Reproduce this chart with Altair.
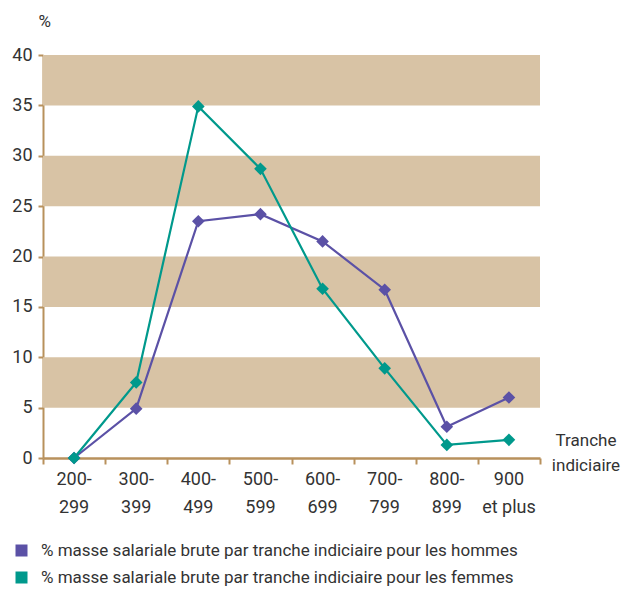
import altair as alt
import pandas as pd

categories = ["200-299", "300-399", "400-499", "500-599", "600-699", "700-799", "800-899", "900 et plus"]
cat_labels = ["200-\n299", "300-\n399", "400-\n499", "500-\n599", "600-\n699", "700-\n799", "800-\n899", "900\net plus"]
hommes = [0.0, 4.9, 23.5, 24.2, 21.5, 16.7, 3.1, 6.0]
femmes = [0.0, 7.5, 34.9, 28.7, 16.8, 8.9, 1.3, 1.8]
series_names = [
    "% masse salariale brute par tranche indiciaire pour les hommes",
    "% masse salariale brute par tranche indiciaire pour les femmes",
]
colors = ["#5b51a6", "#00998c"]
band_lo = [5, 15, 25, 35]
band_hi = [10, 20, 30, 40]
x_title = ["Tranche\nindiciaire"]

FONT = "Roboto"
TAN = "#b8915c"
TXT = "#333333"

rows = []
for name, vals in zip(series_names, [hommes, femmes]):
    for c, v in zip(categories, vals):
        rows.append({"cat": c, "val": v, "serie": name})
df = pd.DataFrame(rows)
bands = pd.DataFrame({"lo": band_lo, "hi": band_hi})
labels_df = pd.DataFrame({"cat": categories, "lab": cat_labels})

yscale = alt.Scale(domain=[0, 40], nice=False)
xscale = alt.Scale(type="band", domain=categories, paddingInner=0, paddingOuter=0)
cscale = alt.Scale(domain=series_names, range=colors)

band_layer = alt.Chart(bands).mark_rect(color="#d8c3a5").encode(
    x=alt.value(0),
    x2=alt.value(497),
    y=alt.Y("lo:Q", scale=yscale,
            axis=alt.Axis(values=[0, 5, 10, 15, 20, 25, 30, 35, 40], grid=False,
                          domainColor=TAN, domainWidth=2, tickColor=TAN, tickWidth=2,
                          tickSize=5, labelFontSize=18, labelColor=TXT,
                          labelFont=FONT, labelPadding=6,
                          title="%", titleAngle=0, titleX=-5, titleY=-34,
                          titleAlign="left", titleBaseline="middle",
                          titleFont=FONT, titleFontSize=17, titleFontWeight="normal",
                          titleColor=TXT)),
    y2="hi:Q",
)

xenc = alt.X("cat:N", scale=xscale,
             axis=alt.Axis(labels=False, domainColor=TAN, domainWidth=2.5, tickColor=TAN,
                           tickWidth=2, tickSize=6, tickBand="extent", title=None))

lines = alt.Chart(df).mark_line(strokeWidth=2.2).encode(
    x=xenc,
    y=alt.Y("val:Q", scale=yscale),
    color=alt.Color("serie:N", scale=cscale,
                    legend=alt.Legend(title=None, orient="none", legendX=-30, legendY=487,
                                      symbolType="square", symbolSize=144,
                                      symbolStrokeWidth=0, labelFont=FONT,
                                      labelFontSize=17, labelColor=TXT,
                                      labelLimit=700, rowPadding=9, labelOffset=11)),
)
points = alt.Chart(df).mark_point(shape="diamond", filled=True, size=160, opacity=1).encode(
    x=alt.X("cat:N", scale=xscale),
    y=alt.Y("val:Q", scale=yscale),
    color=alt.Color("serie:N", scale=cscale, legend=None),
)

xlabels = alt.Chart(labels_df).mark_text(
    font=FONT, fontSize=18, color=TXT, lineBreak="\n", lineHeight=28,
    align="center", baseline="middle",
).encode(x=alt.X("cat:N", scale=xscale), y=alt.value(425), text="lab:N")

title_layer = alt.Chart(pd.DataFrame({"t": x_title})).mark_text(
    font=FONT, fontSize=17, color=TXT, lineBreak="\n", lineHeight=25,
    align="center", baseline="middle",
).encode(x=alt.value(543), y=alt.value(386), text="t:N")

chart = alt.layer(band_layer, lines, points, xlabels, title_layer).properties(
    width=497, height=403,
    autosize=alt.AutoSizeParams(type="none"),
    padding={"left": 35, "top": 47, "right": 84, "bottom": 128},
).configure(background="white").configure_view(stroke=None)

chart.save("out.html", embed_options={"renderer": "svg", "actions": False})
